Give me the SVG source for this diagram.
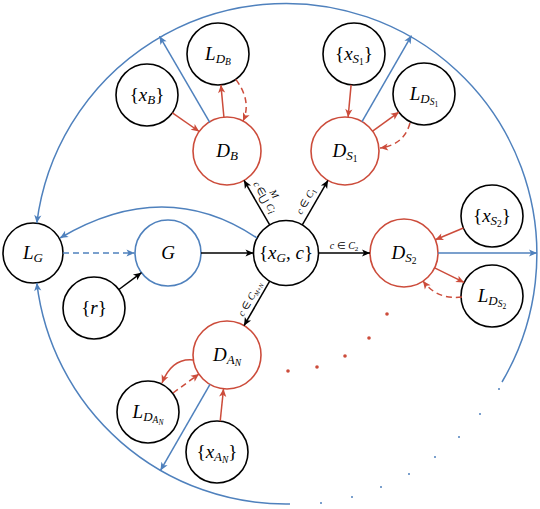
<svg xmlns="http://www.w3.org/2000/svg" width="540" height="509" viewBox="0 0 540 509">
<style>
.n{fill:#fff;stroke:#000;stroke-width:1.6}
.nr{fill:#fff;stroke:#cc4c3b;stroke-width:1.6}
.nb{fill:#fff;stroke:#4f81bd;stroke-width:1.6}
.t{font-family:'Liberation Serif','Times New Roman',serif;font-size:19px;text-anchor:middle;fill:#000}
.i{font-style:italic}
.s{font-size:13px}
.ss{font-size:9.5px}
.sss{font-size:7.5px}
.e{fill:none;stroke-width:1.5}
.k{stroke:#000;marker-end:url(#ak)}
.r{stroke:#cc4c3b;marker-end:url(#ar)}
.b{stroke:#4f81bd;marker-end:url(#ab)}
.d{stroke-dasharray:6 4}
.el{font-family:'Liberation Serif','Times New Roman',serif;font-size:10px;fill:#000}
</style>
<defs>
<marker id="ak" viewBox="-9 -5 10 10" refX="0" refY="0" markerWidth="10" markerHeight="10" markerUnits="userSpaceOnUse" orient="auto"><path d="M0,0 L-8,-3.6 L-6,0 L-8,3.6 z" fill="#000"/></marker>
<marker id="ar" viewBox="-9 -5 10 10" refX="0" refY="0" markerWidth="10" markerHeight="10" markerUnits="userSpaceOnUse" orient="auto"><path d="M0,0 L-8,-3.6 L-6,0 L-8,3.6 z" fill="#cc4c3b"/></marker>
<marker id="ab" viewBox="-9 -5 10 10" refX="0" refY="0" markerWidth="10" markerHeight="10" markerUnits="userSpaceOnUse" orient="auto"><path d="M0,0 L-8,-3.6 L-6,0 L-8,3.6 z" fill="#4f81bd"/></marker>
</defs>

<g id="node-LG"><circle class="n" cx="33" cy="253" r="30"/><text class="t" x="33" y="259"><tspan class="i">L</tspan><tspan class="s i" dy="3">G</tspan></text></g>
<g id="node-G"><circle class="nb" cx="168" cy="253" r="33"/><text class="t i" x="168" y="259">G</text></g>
<g id="node-xG"><circle class="n" cx="286" cy="253" r="32.5"/><text class="t" x="286" y="259">{<tspan class="i">x</tspan><tspan class="s i" dy="3">G</tspan><tspan dy="-3">, </tspan><tspan class="i">c</tspan>}</text></g>
<g id="node-r"><circle class="n" cx="94" cy="308" r="31"/><text class="t" x="94" y="314">{<tspan class="i">r</tspan>}</text></g>

<g id="node-DB"><circle class="nr" cx="227" cy="151" r="34"/><text class="t" x="227" y="157"><tspan class="i">D</tspan><tspan class="s i" dy="3">B</tspan></text></g>
<g id="node-LDB"><circle class="n" cx="218" cy="54" r="31"/><text class="t" x="218" y="60"><tspan class="i">L</tspan><tspan class="s i" dy="3">D</tspan><tspan class="ss i" dy="2">B</tspan></text></g>
<g id="node-xB"><circle class="n" cx="147" cy="95" r="31"/><text class="t" x="147" y="101">{<tspan class="i">x</tspan><tspan class="s i" dy="3">B</tspan><tspan dy="-3">}</tspan></text></g>

<g id="node-DS1"><circle class="nr" cx="345" cy="151" r="34"/><text class="t" x="345" y="157"><tspan class="i">D</tspan><tspan class="s i" dy="3">S</tspan><tspan class="ss" dy="2">1</tspan></text></g>
<g id="node-LDS1"><circle class="n" cx="424" cy="94" r="31"/><text class="t" x="424" y="100"><tspan class="i">L</tspan><tspan class="s i" dy="3">D</tspan><tspan class="ss i" dy="2">S</tspan><tspan class="sss" dy="1.5">1</tspan></text></g>
<g id="node-xS1"><circle class="n" cx="354" cy="54" r="31"/><text class="t" x="354" y="60">{<tspan class="i">x</tspan><tspan class="s i" dy="3">S</tspan><tspan class="ss" dy="2">1</tspan><tspan dy="-5">}</tspan></text></g>

<g id="node-DS2"><circle class="nr" cx="404" cy="253" r="34"/><text class="t" x="404" y="259"><tspan class="i">D</tspan><tspan class="s i" dy="3">S</tspan><tspan class="ss" dy="2">2</tspan></text></g>
<g id="node-xS2"><circle class="n" cx="492" cy="216" r="31"/><text class="t" x="492" y="222">{<tspan class="i">x</tspan><tspan class="s i" dy="3">S</tspan><tspan class="ss" dy="2">2</tspan><tspan dy="-5">}</tspan></text></g>
<g id="node-LDS2"><circle class="n" cx="492" cy="296" r="31"/><text class="t" x="492" y="302"><tspan class="i">L</tspan><tspan class="s i" dy="3">D</tspan><tspan class="ss i" dy="2">S</tspan><tspan class="sss" dy="1.5">2</tspan></text></g>

<g id="node-DAN"><circle class="nr" cx="227" cy="355" r="34"/><text class="t" x="227" y="361"><tspan class="i">D</tspan><tspan class="s i" dy="3">A</tspan><tspan class="ss i" dy="2">N</tspan></text></g>
<g id="node-LDAN"><circle class="n" cx="148" cy="412" r="31"/><text class="t" x="148" y="418"><tspan class="i">L</tspan><tspan class="s i" dy="3">D</tspan><tspan class="ss i" dy="2">A</tspan><tspan class="sss i" dy="1.5">N</tspan></text></g>
<g id="node-xAN"><circle class="n" cx="217" cy="452" r="31"/><text class="t" x="217" y="458">{<tspan class="i">x</tspan><tspan class="s i" dy="3">A</tspan><tspan class="ss i" dy="2">N</tspan><tspan dy="-5">}</tspan></text></g>

<g id="edges">
<path class="e b" d="M502,382 A251,251 0 1 0 36.8,223.1"/>
<path class="e b" d="M290,504 A251,251 0 0 1 36.8,282.9"/>
<path class="e b" d="M257,238 Q165,176 60,238"/>
<path class="e b d" d="M63,253 L134.5,253"/>
<path class="e b" d="M209.9,122.6 L159.5,36.2"/>
<path class="e b" d="M362,121.6 L411.5,35.6"/>
<path class="e b" d="M438,253 L537,253"/>
<path class="e b" d="M210,384.4 L160.5,470.4"/>

<path class="e k" d="M118.9,289.5 L141.5,272.7"/>
<path class="e k" d="M201,253 L253.5,253"/>
<path class="e k" d="M269.7,224.9 L244,180.3"/>
<path class="e k" d="M302.3,224.9 L328,180.3"/>
<path class="e k" d="M318.5,253 L370,253"/>
<path class="e k" d="M269.7,281.1 L244,325.7"/>

<path class="e r" d="M172.4,112.8 L199.2,131.5"/>
<path class="e r" d="M223.9,117.1 L220.9,84.9"/>
<path class="e r d" d="M235.8,79.4 Q252,101 243,121"/>

<path class="e r" d="M351.1,84.9 L348.1,117.1"/>
<path class="e r" d="M372.6,131.1 L398.9,112.1"/>
<path class="e r d" d="M410,123 Q404,145 380,148"/>

<path class="e r" d="M463.4,228 L435.3,239.8"/>
<path class="e r" d="M434.6,267.9 L464.1,282.4"/>
<path class="e r d" d="M462,297 Q437,300 423,281"/>

<path class="e r" d="M220.2,421.2 L223.5,388.8"/>
<path class="e r" d="M193,360 Q172,358 162,383"/>
<path class="e r d" d="M173,393 L199,374"/>

<g id="edge-labels">
<g transform="translate(262.7,200.6) rotate(60)">
<text class="el i" x="-19.5" y="0">c</text>
<text class="el" x="-13" y="0">∈</text>
<text class="el" x="-4.5" y="1.5" font-size="14">⋃</text>
<text class="el i" x="0" y="-10" font-size="6" text-anchor="middle">M</text>
<text class="el i" x="6" y="0">C</text>
<text class="el i" x="13" y="2" font-size="7">i</text>
</g>
<g transform="translate(308.7,202.6) rotate(-60)"><text class="el" text-anchor="middle" x="0" y="0"><tspan class="i">c</tspan> ∈ <tspan class="i">C</tspan><tspan font-size="7" dy="2">1</tspan></text></g>
<text class="el" text-anchor="middle" x="344" y="249"><tspan class="i">c</tspan> ∈ <tspan class="i">C</tspan><tspan font-size="7" dy="2">2</tspan></text>
<g transform="translate(252.8,300.5) rotate(-60)"><text class="el" text-anchor="middle" x="0" y="0"><tspan class="i">c</tspan> ∈ <tspan class="i">C</tspan><tspan class="i" font-size="6" dy="2">M+N</tspan></text></g>
</g>
</g>

<g id="ellipsis">
<g fill="#cc4c3b">
<circle cx="288" cy="371" r="1.8"/><circle cx="317" cy="367" r="1.8"/><circle cx="345" cy="356" r="1.8"/><circle cx="369" cy="338" r="1.8"/><circle cx="387" cy="314" r="1.8"/>
</g>
<g fill="#4f81bd">
<circle cx="499" cy="389" r="1"/><circle cx="480" cy="414" r="1"/><circle cx="459" cy="437" r="1"/><circle cx="435" cy="457" r="1"/><circle cx="409" cy="474" r="1"/><circle cx="381" cy="487" r="1"/><circle cx="352" cy="497" r="1"/><circle cx="321" cy="503" r="1"/>
</g>
</g>
</svg>
